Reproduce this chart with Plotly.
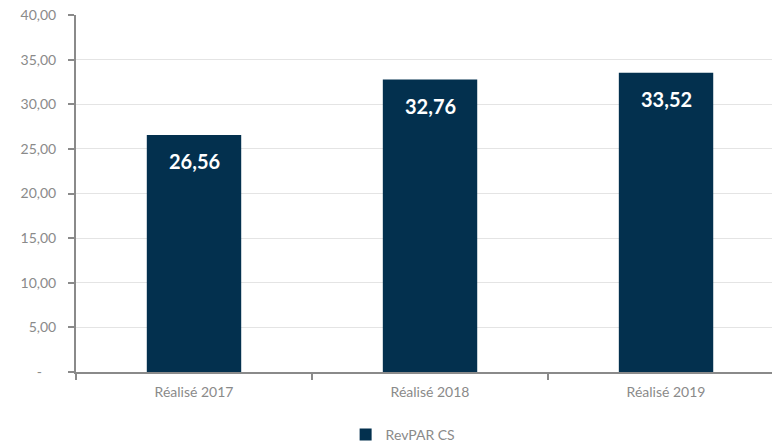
import plotly.graph_objects as go

categories = ["Réalisé 2017", "Réalisé 2018", "Réalisé 2019"]
values = [26.56, 32.76, 33.52]
series_name = "RevPAR CS"
y_tickvals = [0, 5, 10, 15, 20, 25, 30, 35, 40]
y_ticktext = ["-\u00a0\u00a0\u00a0\u00a0", "5,00", "10,00", "15,00", "20,00", "25,00", "30,00", "35,00", "40,00"]

bar_color = "#03304E"
gray = "#8A8A8A"

fig = go.Figure()
fig.add_trace(go.Bar(
    x=categories, y=values, name=series_name, width=0.4,
    marker=dict(color=bar_color, line=dict(width=0)),
    showlegend=True,
))

for c, v in zip(categories, values):
    fig.add_annotation(
        x=c, y=v, text="<b>" + f"{v:.2f}".replace(".", ",") + "</b>",
        showarrow=False, yanchor="middle", yshift=-26,
        font=dict(family="Lato, Open Sans, sans-serif", size=20, color="white"),
    )

fig.update_layout(
    width=772, height=442,
    margin=dict(l=76, r=0, t=15, b=70, autoexpand=False),
    plot_bgcolor="white", paper_bgcolor="white",
    font=dict(family="Lato, Open Sans, sans-serif", color=gray),
    bargap=0.6,
    legend=dict(orientation="h", x=0.47, xanchor="center", y=-0.176, yanchor="middle",
                font=dict(size=14, color=gray), itemwidth=30),
    xaxis=dict(
        range=[-0.5, 2.449], showline=True, linecolor=gray, linewidth=2,
        ticks="outside", tickson="boundaries", ticklen=6, tickcolor=gray, tickwidth=2,
        tickfont=dict(size=14, color=gray), showgrid=False, ticklabelstandoff=6,
        automargin=False,
    ),
    yaxis=dict(
        range=[0, 40], tickvals=y_tickvals, ticktext=y_ticktext,
        showline=True, linecolor=gray, linewidth=2,
        ticks="outside", ticklen=6, tickcolor=gray, tickwidth=2,
        tickfont=dict(size=14, color=gray), ticklabelstandoff=9,
        showgrid=True, gridcolor="#E4E4E4", gridwidth=1, zeroline=False,
        automargin=False,
    ),
)

fig.write_html("out.html")
